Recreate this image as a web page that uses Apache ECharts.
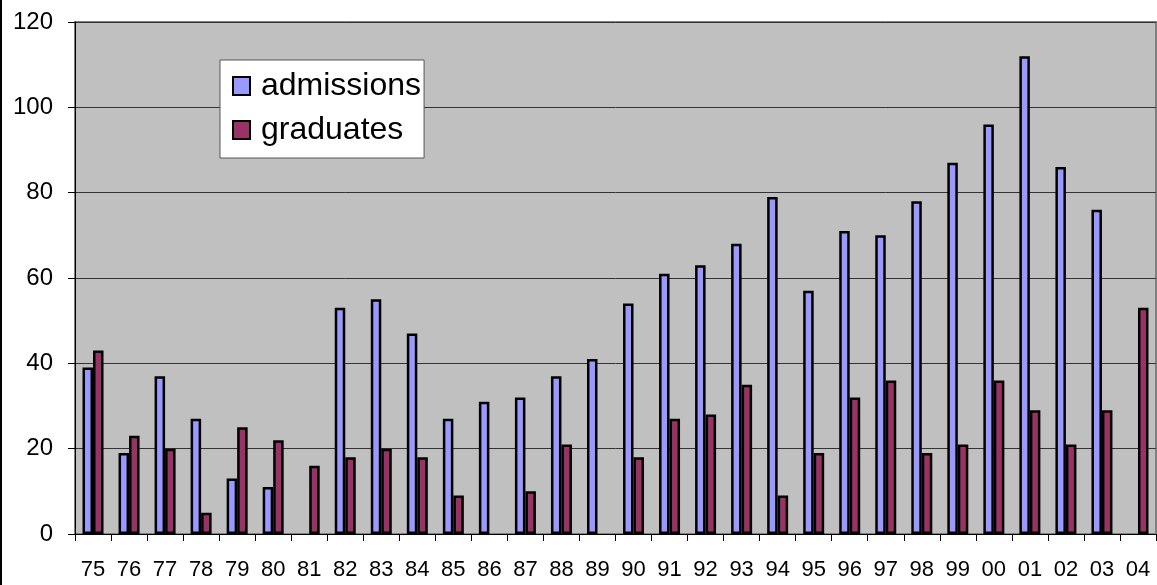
<!DOCTYPE html>
<html>
<head>
<meta charset="utf-8">
<script src="https://cdn.jsdelivr.net/npm/echarts@6/dist/echarts.min.js"></script>
<style>
html,body{margin:0;padding:0;background:#fff;}
#chart{width:1157px;height:585px;}
</style>
</head>
<body>
<div id="chart"></div>
<script>
const categories = ['75','76','77','78','79','80','81','82','83','84','85','86','87','88','89','90','91','92','93','94','95','96','97','98','99','00','01','02','03','04'];
const admissions = [39,19,37,27,13,11,null,53,55,47,27,31,32,37,41,54,61,63,68,79,57,71,70,78,87,96,112,86,76,null];
const graduates = [43,23,20,5,25,22,16,18,20,18,9,null,10,21,null,18,27,28,35,9,19,32,36,19,21,36,29,21,29,53];
const yTicks = [0,20,40,60,80,100,120];

const chart = echarts.init(document.getElementById('chart'));
chart.setOption({
  animation: false,
  backgroundColor: '#ffffff',
  textStyle: { fontFamily: 'Liberation Sans, Arial, sans-serif', color: '#000' },
  graphic: [{
    type: 'rect', shape: { x: 0, y: 0, width: 2, height: 585 },
    style: { fill: '#000' }, silent: true
  }],
  grid: {
    left: 75, right: 1, top: 22, bottom: 51,
    show: true, backgroundColor: '#C0C0C0', borderColor: '#808080', borderWidth: 2
  },
  legend: {
    orient: 'vertical',
    left: 220, top: 60,
    padding: [10, 3, 12, 12],
    itemGap: 12,
    itemWidth: 17, itemHeight: 18,
    icon: 'rect',
    backgroundColor: '#ffffff',
    borderColor: '#555555', borderWidth: 1,
    textStyle: { fontSize: 32, color: '#000', fontFamily: 'Liberation Sans, Arial, sans-serif', padding: [0,0,0,6], lineHeight: 30 },
    data: ['admissions', 'graduates']
  },
  xAxis: {
    type: 'category',
    data: categories,
    boundaryGap: true,
    axisLine: { lineStyle: { color: '#000', width: 1 } },
    axisTick: { show: true, length: 7, lineStyle: { color: '#000' } },
    axisLabel: { fontSize: 22, color: '#000', margin: 25, interval: 0 },
    splitLine: { show: false }
  },
  yAxis: {
    type: 'value',
    min: 0, max: 120, interval: 20,
    axisLine: { show: true, lineStyle: { color: '#000', width: 1 } },
    axisTick: { show: true, length: 7, lineStyle: { color: '#000' } },
    axisLabel: {
      fontSize: 24, color: '#000', margin: 22,
      formatter: v => yTicks.includes(v) ? String(v) : ''
    },
    splitLine: { show: true, lineStyle: { color: '#333333', width: 1 } }
  },
  series: [
    {
      name: 'admissions', type: 'bar', data: admissions,
      barWidth: 10.5, barGap: '0%',
      itemStyle: { color: '#9999FF', borderColor: '#000', borderWidth: 2.5 }
    },
    {
      name: 'graduates', type: 'bar', data: graduates,
      barWidth: 10.5, barGap: '0%',
      itemStyle: { color: '#993366', borderColor: '#000', borderWidth: 2.5 }
    }
  ]
});
</script>
</body>
</html>
